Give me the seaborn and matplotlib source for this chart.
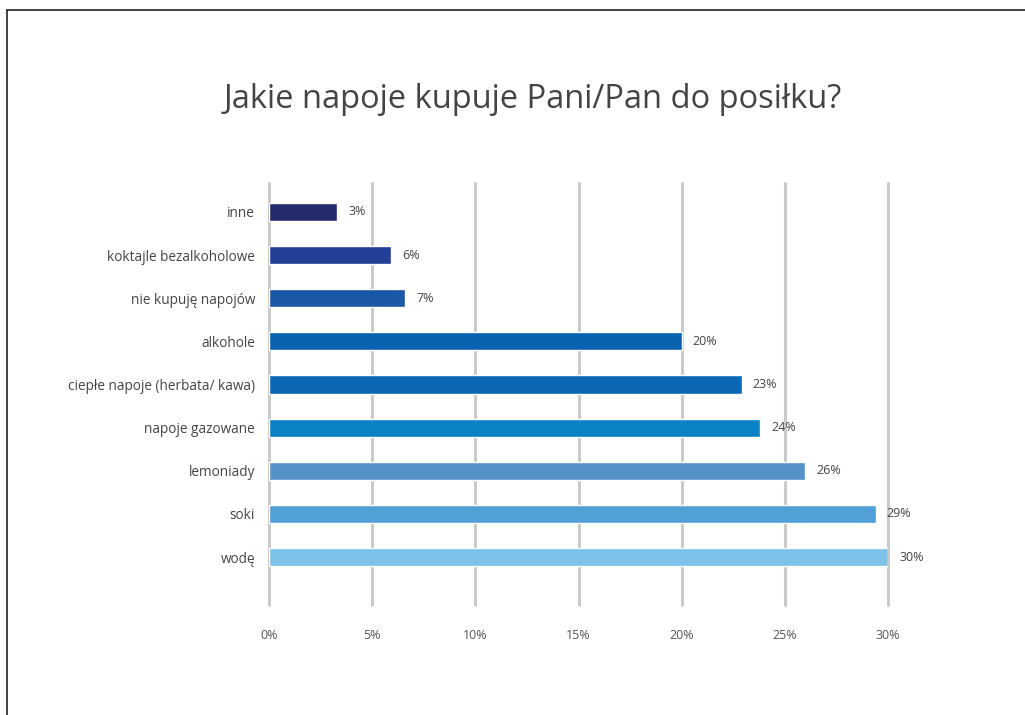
import matplotlib
matplotlib.use("Agg")
import matplotlib.pyplot as plt
import seaborn as sns
import pandas as pd
from matplotlib.lines import Line2D

# Survey answers (share of respondents, %)
categories = [
    "inne",
    "koktajle bezalkoholowe",
    "nie kupuję napojów",
    "alkohole",
    "ciepłe napoje (herbata/ kawa)",
    "napoje gazowane",
    "lemoniady",
    "soki",
    "wodę",
]
values = [3.3, 5.9, 6.6, 20.0, 22.9, 23.8, 26.0, 29.4, 30.0]
bar_colors = [
    "#252a6c", "#233f96", "#1a57a4", "#0a62b0", "#0b67b3",
    "#0a82c5", "#5592c9", "#51a0d7", "#7cc2e9",
]
tick_values = [0, 5, 10, 15, 20, 25, 30]
tick_labels = [f"{t}%" for t in tick_values]
title = "Jakie napoje kupuje Pani/Pan do posiłku?"

df = pd.DataFrame({"kategoria": categories, "udzial": values})

sns.set_theme(style="white")
plt.rcParams["font.family"] = ["Open Sans", "DejaVu Sans"]

fig = plt.figure(figsize=(10.25, 7.15), dpi=100)
ax = fig.add_axes([269 / 1025, 1 - 605 / 715, (888 - 269) / 1025, (605 - 183) / 715])

sns.barplot(
    data=df, x="udzial", y="kategoria", hue="kategoria",
    palette=bar_colors, order=categories, hue_order=categories,
    width=0.42, legend=False, ax=ax, saturation=1, zorder=3,
)

ax.set_xlim(0, 30)
ax.set_ylim(len(categories) - 1 + 1.11, -0.67)

# vertical grid lines
for t in tick_values:
    ax.axvline(t, color="#cacaca", lw=2.2, zorder=1, clip_on=False)

for s in ax.spines.values():
    s.set_visible(False)

ax.set_xticks(tick_values)
ax.set_xticklabels(tick_labels, fontsize=9, color="#555555")
ax.tick_params(axis="x", length=0, pad=17)
ax.tick_params(axis="y", length=0, pad=10, labelsize=9.8, labelcolor="#444444")
ax.set_xlabel("")
ax.set_ylabel("")

# value labels at the bar ends
for i, v in enumerate(values):
    ax.annotate(f"{v:.0f}%", xy=(v, i), xytext=(8, 0), textcoords="offset points",
                va="center", ha="left", fontsize=9, color="#444444",
                annotation_clip=False)

fig.text(0.52, 1 - 100 / 715, title, ha="center", va="center",
         fontsize=23.5, color="#444444")

# frame lines on the left and top
fig.add_artist(Line2D([7 / 1025, 7 / 1025], [0, 1 - 10 / 715],
                      transform=fig.transFigure, color="#222222", lw=1.2))
fig.add_artist(Line2D([7 / 1025, 1], [1 - 10 / 715, 1 - 10 / 715],
                      transform=fig.transFigure, color="#222222", lw=1.2))

fig.savefig("out.png", dpi=100)
